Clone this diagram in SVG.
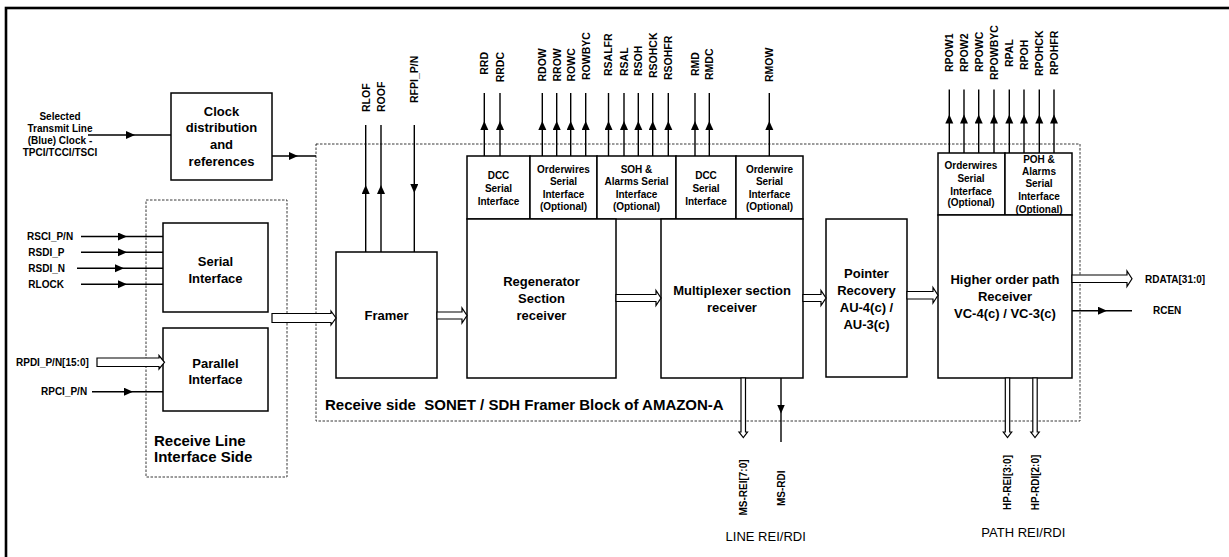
<svg xmlns="http://www.w3.org/2000/svg" width="1229" height="557" viewBox="0 0 1229 557">
<style>
text{font-family:"Liberation Sans",Arial,sans-serif;fill:#000}
.b{font-weight:bold}
.box{fill:#fff;stroke:#000;stroke-width:1.5}
.dash{fill:none;stroke:#222;stroke-width:0.9;stroke-dasharray:2.5,1.5}
.ln{fill:none;stroke:#000;stroke-width:1.4}
.hol{fill:#fff;stroke:#000;stroke-width:1.2;stroke-linejoin:miter}
.t13{font-size:13px;font-weight:bold;text-anchor:middle}
.t10{font-size:10px;font-weight:bold;text-anchor:middle}
.sig{font-size:10px;font-weight:bold}
.top{font-size:10.5px;font-weight:bold}
</style>
<defs>
<marker id="ah" markerUnits="userSpaceOnUse" markerWidth="10" markerHeight="10" refX="9" refY="4" orient="auto">
<path d="M0,0 L9,4 L0,8 Z" fill="#000"/>
</marker>
</defs>
<rect width="1229" height="557" fill="#fff"/>
<!-- outer frame (cropped) -->
<rect x="6" y="8" width="1240" height="570" fill="none" stroke="#000" stroke-width="2.6"/>

<g id="sonet-block">
<rect class="dash" x="316" y="144" width="764" height="277"/>
<text class="b" x="325" y="409.5" font-size="15" xml:space="preserve">Receive side  SONET / SDH Framer Block of AMAZON-A</text>
</g>
<g id="line-interface-side">
<rect class="dash" x="146" y="200" width="141" height="277"/>
<text class="b" x="154" y="446" font-size="15">Receive Line</text>
<text class="b" x="154" y="462" font-size="15">Interface Side</text>
</g>

<g id="clock">
<rect class="box" x="171" y="93" width="101" height="87"/>
<text class="t13" x="221.5" y="115.7">Clock</text>
<text class="t13" x="221.5" y="132.3">distribution</text>
<text class="t13" x="221.5" y="148.9">and</text>
<text class="t13" x="221.5" y="165.5">references</text>
</g>
<g id="clock-input-label">
<text class="t10" x="60" y="119.5" font-size="9.6">Selected</text>
<text class="t10" x="60" y="131.8" font-size="9.6">Transmit Line</text>
<text class="t10" x="60" y="144.1" font-size="9.6">(Blue) Clock -</text>
<text class="t10" x="60" y="156.4" font-size="9.6">TPCI/TCCI/TSCI</text>
</g>

<g id="serial-interface">
<rect class="box" x="163" y="223" width="105" height="89"/>
<text class="t13" x="215.5" y="266">Serial</text>
<text class="t13" x="215.5" y="282.7">Interface</text>
</g>
<g id="parallel-interface">
<rect class="box" x="163" y="328" width="105" height="83"/>
<text class="t13" x="215.5" y="368">Parallel</text>
<text class="t13" x="215.5" y="384">Interface</text>
</g>

<g id="framer">
<rect class="box" x="336" y="252" width="101" height="126"/>
<text class="t13" x="386.5" y="320">Framer</text>
</g>

<g id="rs-dcc">
<rect class="box" x="467" y="156" width="63" height="63"/>
<text class="t10" x="498.5" y="178.6">DCC</text>
<text class="t10" x="498.5" y="192">Serial</text>
<text class="t10" x="498.5" y="204.6">Interface</text>
</g>
<g id="rs-orderwires">
<rect class="box" x="530" y="156" width="67" height="63"/>
<text class="t10" x="563.5" y="173">Orderwires</text>
<text class="t10" x="563.5" y="185.4">Serial</text>
<text class="t10" x="563.5" y="197.8">Interface</text>
<text class="t10" x="563.5" y="210.2">(Optional)</text>
</g>
<g id="soh-alarms">
<rect class="box" x="597" y="156" width="79" height="63"/>
<text class="t10" x="636.5" y="173">SOH &amp;</text>
<text class="t10" x="636.5" y="185.4">Alarms Serial</text>
<text class="t10" x="636.5" y="197.8">Interface</text>
<text class="t10" x="636.5" y="210.2">(Optional)</text>
</g>
<g id="ms-dcc">
<rect class="box" x="676" y="156" width="60" height="63"/>
<text class="t10" x="706" y="178.6">DCC</text>
<text class="t10" x="706" y="192">Serial</text>
<text class="t10" x="706" y="204.6">Interface</text>
</g>
<g id="ms-orderwire">
<rect class="box" x="736" y="156" width="67" height="63"/>
<text class="t10" x="769.5" y="173">Orderwire</text>
<text class="t10" x="769.5" y="185.4">Serial</text>
<text class="t10" x="769.5" y="197.8">Interface</text>
<text class="t10" x="769.5" y="210.2">(Optional)</text>
</g>

<g id="regenerator">
<rect class="box" x="467" y="219" width="149" height="159"/>
<text class="t13" x="541.5" y="285.7">Regenerator</text>
<text class="t13" x="541.5" y="302.7">Section</text>
<text class="t13" x="541.5" y="319.7">receiver</text>
</g>
<g id="multiplexer">
<rect class="box" x="661" y="219" width="142" height="159"/>
<text class="t13" x="732" y="295.4">Multiplexer section</text>
<text class="t13" x="732" y="312">receiver</text>
</g>
<g id="pointer">
<rect class="box" x="826" y="219" width="81" height="158"/>
<text class="t13" x="866.5" y="278">Pointer</text>
<text class="t13" x="866.5" y="295">Recovery</text>
<text class="t13" x="866.5" y="312">AU-4(c) /</text>
<text class="t13" x="866.5" y="329">AU-3(c)</text>
</g>
<g id="ho-orderwires">
<rect class="box" x="938" y="153" width="67" height="62"/>
<text class="t10" x="971" y="168.6">Orderwires</text>
<text class="t10" x="971" y="182">Serial</text>
<text class="t10" x="971" y="194.6">Interface</text>
<text class="t10" x="971" y="206.3">(Optional)</text>
</g>
<g id="poh-alarms">
<rect class="box" x="1005" y="153" width="67" height="62"/>
<text class="t10" x="1039" y="163">POH &amp;</text>
<text class="t10" x="1039" y="175.3">Alarms</text>
<text class="t10" x="1039" y="187.2">Serial</text>
<text class="t10" x="1039" y="200.3">Interface</text>
<text class="t10" x="1039" y="213">(Optional)</text>
</g>
<g id="higher-order">
<rect class="box" x="938" y="215" width="134" height="163"/>
<text class="t13" x="1005" y="284">Higher order path</text>
<text class="t13" x="1005" y="301.4">Receiver</text>
<text class="t13" x="1005" y="318">VC-4(c) / VC-3(c)</text>
</g>

<g id="connectors">
<path class="ln" d="M88,135 L135,135 L171,135" marker-mid="url(#ah)"/>
<path class="ln" d="M272,156 L298,156 L316,156" marker-mid="url(#ah)"/>
<path class="ln" d="M81,236.5 L127,236.5 L163,236.5" marker-mid="url(#ah)"/>
<path class="ln" d="M81,252.3 L127,252.3 L163,252.3" marker-mid="url(#ah)"/>
<path class="ln" d="M77,268.3 L124,268.3 L163,268.3" marker-mid="url(#ah)"/>
<path class="ln" d="M81,284.3 L127,284.3 L163,284.3" marker-mid="url(#ah)"/>
<path class="ln" d="M92,391.7 L133,391.7 L163,391.7" marker-mid="url(#ah)"/>
<path class="ln" d="M1072,310.7 L1107,310.7 L1132,310.7" marker-mid="url(#ah)"/>
<path class="ln" d="M365.7,252 L365.7,185 L365.7,125" marker-mid="url(#ah)"/>
<path class="ln" d="M381,252 L381,185 L381,125" marker-mid="url(#ah)"/>
<path class="ln" d="M414.3,125 L414.3,193 L414.3,252" marker-mid="url(#ah)"/>
<path class="ln" d="M484.3,156 L484.3,121 L484.3,93" marker-mid="url(#ah)"/>
<path class="ln" d="M500,156 L500,121 L500,93" marker-mid="url(#ah)"/>
<path class="ln" d="M542.3,156 L542.3,121 L542.3,93" marker-mid="url(#ah)"/>
<path class="ln" d="M556.7,156 L556.7,121 L556.7,93" marker-mid="url(#ah)"/>
<path class="ln" d="M570.7,156 L570.7,121 L570.7,93" marker-mid="url(#ah)"/>
<path class="ln" d="M585.7,156 L585.7,121 L585.7,93" marker-mid="url(#ah)"/>
<path class="ln" d="M608.5,156 L608.5,121 L608.5,93" marker-mid="url(#ah)"/>
<path class="ln" d="M624,156 L624,121 L624,93" marker-mid="url(#ah)"/>
<path class="ln" d="M638.3,156 L638.3,121 L638.3,93" marker-mid="url(#ah)"/>
<path class="ln" d="M652.7,156 L652.7,121 L652.7,93" marker-mid="url(#ah)"/>
<path class="ln" d="M668.3,156 L668.3,121 L668.3,93" marker-mid="url(#ah)"/>
<path class="ln" d="M695,156 L695,121 L695,93" marker-mid="url(#ah)"/>
<path class="ln" d="M709.3,156 L709.3,121 L709.3,93" marker-mid="url(#ah)"/>
<path class="ln" d="M769.3,156 L769.3,121 L769.3,93" marker-mid="url(#ah)"/>
<path class="ln" d="M949.3,153 L949.3,114.5 L949.3,89.5" marker-mid="url(#ah)"/>
<path class="ln" d="M964,153 L964,114.5 L964,89.5" marker-mid="url(#ah)"/>
<path class="ln" d="M978.7,153 L978.7,114.5 L978.7,89.5" marker-mid="url(#ah)"/>
<path class="ln" d="M994,153 L994,114.5 L994,89.5" marker-mid="url(#ah)"/>
<path class="ln" d="M1009.3,153 L1009.3,114.5 L1009.3,89.5" marker-mid="url(#ah)"/>
<path class="ln" d="M1024,153 L1024,114.5 L1024,89.5" marker-mid="url(#ah)"/>
<path class="ln" d="M1039.3,153 L1039.3,114.5 L1039.3,89.5" marker-mid="url(#ah)"/>
<path class="ln" d="M1054,153 L1054,114.5 L1054,89.5" marker-mid="url(#ah)"/>
<path class="ln" d="M781,378 L781,413.5 L781,442" marker-mid="url(#ah)"/>
<path class="hol" d="M97,358 H159 V355.5 L164.5,362.3 L159,369 V366.5 H97 Z"/>
<path class="hol" d="M272,313.5 H331 V311 L336,318 L331,325 V322.5 H272 Z"/>
<path class="hol" d="M437,312 H462 V308 L467,315.5 L462,323 V319 H437 Z"/>
<path class="hol" d="M616,294.5 H656 V290.5 L661,298 L656,305.5 V301.5 H616 Z"/>
<path class="hol" d="M803,294.5 H821 V290.5 L826,298 L821,305.5 V301.5 H803 Z"/>
<path class="hol" d="M907,291.5 H933 V287.5 L938,295.3 L933,303 V299 H907 Z"/>
<path class="hol" d="M1072,275 H1127 V271 L1132,278.7 L1127,286.5 V282.5 H1072 Z"/>
<path class="hol" d="M741,378 V432 H739 L743.3,437.5 L747.5,432 H745.5 V378 Z"/>
<path class="hol" d="M1005.3,378 V432 H1003.3 L1007.5,437.5 L1011.7,432 H1009.7 V378 Z"/>
<path class="hol" d="M1032.8,378 V432 H1030.8 L1035,437.5 L1039.2,432 H1037.2 V378 Z"/>
</g>

<g id="signal-labels">
<text class="sig" x="27" y="240">RSCI_P/N</text>
<text class="sig" x="28.3" y="255.8">RSDI_P</text>
<text class="sig" x="28.3" y="271.8">RSDI_N</text>
<text class="sig" x="28.3" y="287.8">RLOCK</text>
<text class="sig" x="16" y="365.8">RPDI_P/N[15:0]</text>
<text class="sig" x="41" y="395.2">RPCI_P/N</text>
<text class="sig" x="1145" y="282.5">RDATA[31:0]</text>
<text class="sig" x="1153" y="314.2">RCEN</text>
<text class="top" transform="translate(369.5,112) rotate(-90)">RLOF</text>
<text class="top" transform="translate(384.8,112) rotate(-90)">ROOF</text>
<text class="top" transform="translate(418,103) rotate(-90)">RFPI_P/N</text>
<text class="top" transform="translate(488,52) rotate(-90)" text-anchor="end">RRD</text>
<text class="top" transform="translate(503.8,52) rotate(-90)" text-anchor="end">RRDC</text>
<text class="top" transform="translate(546,81.5) rotate(-90)">RDOW</text>
<text class="top" transform="translate(560.5,81.5) rotate(-90)">RROW</text>
<text class="top" transform="translate(574.5,81.5) rotate(-90)">ROWC</text>
<text class="top" transform="translate(589.5,80) rotate(-90)">ROWBYC</text>
<text class="top" transform="translate(612.3,76) rotate(-90)">RSALFR</text>
<text class="top" transform="translate(627.8,76) rotate(-90)">RSAL</text>
<text class="top" transform="translate(642,76) rotate(-90)">RSOH</text>
<text class="top" transform="translate(656.5,78) rotate(-90)">RSOHCK</text>
<text class="top" transform="translate(672,80) rotate(-90)">RSOHFR</text>
<text class="top" transform="translate(698.8,76) rotate(-90)">RMD</text>
<text class="top" transform="translate(713,80) rotate(-90)">RMDC</text>
<text class="top" transform="translate(773,82) rotate(-90)">RMOW</text>
<text class="top" transform="translate(953,72) rotate(-90)">RPOW1</text>
<text class="top" transform="translate(967.8,72) rotate(-90)">RPOW2</text>
<text class="top" transform="translate(982.5,72) rotate(-90)">RPOWC</text>
<text class="top" transform="translate(997.8,80) rotate(-90)">RPOWBYC</text>
<text class="top" transform="translate(1013,67) rotate(-90)">RPAL</text>
<text class="top" transform="translate(1027.8,70) rotate(-90)">RPOH</text>
<text class="top" transform="translate(1043,76) rotate(-90)">RPOHCK</text>
<text class="top" transform="translate(1057.8,75) rotate(-90)">RPOHFR</text>
<text class="sig" text-anchor="middle" transform="translate(747,487.5) rotate(-90)">MS-REI[7:0]</text>
<text class="sig" text-anchor="middle" transform="translate(784.7,488.3) rotate(-90)">MS-RDI</text>
<text class="sig" text-anchor="middle" transform="translate(1011,482.5) rotate(-90)">HP-REI[3:0]</text>
<text class="sig" text-anchor="middle" transform="translate(1038.7,482.5) rotate(-90)">HP-RDI[2:0]</text>
<text x="765.7" y="540.7" font-size="13" text-anchor="middle">LINE REI/RDI</text>
<text x="1023.3" y="536.7" font-size="13" text-anchor="middle">PATH REI/RDI</text>
</g>
</svg>
